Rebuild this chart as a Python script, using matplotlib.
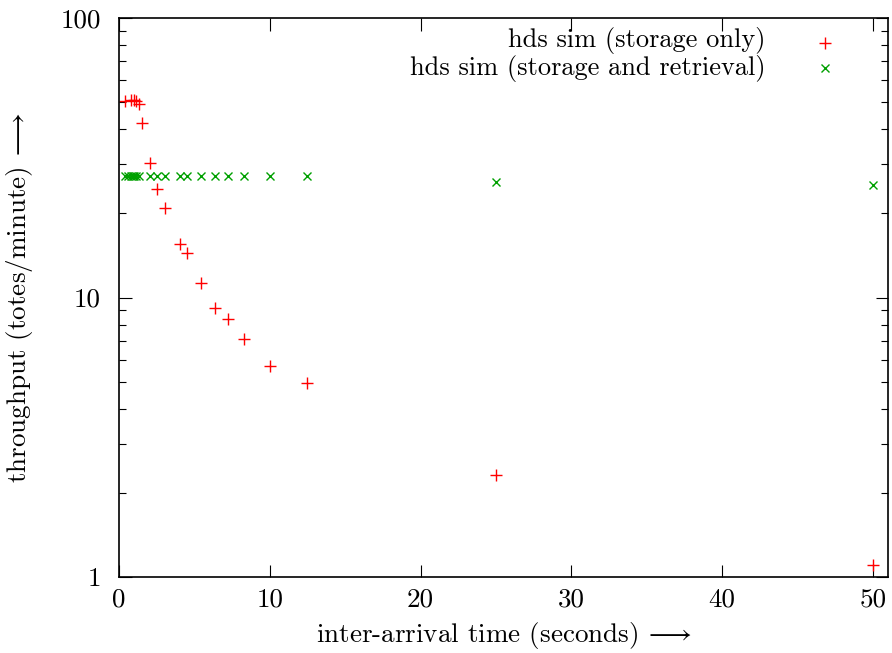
import matplotlib
matplotlib.use("Agg")
import matplotlib.pyplot as plt
from matplotlib.ticker import LogLocator, NullFormatter

plt.rcParams['font.family'] = 'cmr10'
plt.rcParams['mathtext.fontset'] = 'cm'
plt.rcParams['axes.formatter.use_mathtext'] = True

# inter-arrival time (s) and throughput (totes/minute)
storage_x = [0.4, 0.77, 0.99, 1.13, 1.34, 1.52, 2.03, 2.54, 3.02, 4.02, 4.52,
             5.43, 6.34, 7.22, 8.32, 10.0, 12.5, 25.0, 50.0]
storage_y = [50.6, 51.0, 51.0, 50.6, 49.2, 42.0, 30.2, 24.4, 20.9, 15.6, 14.4,
             11.3, 9.15, 8.37, 7.13, 5.69, 4.93, 2.32, 1.10]

retrieval_x = [0.4, 0.6, 0.77, 0.9, 0.99, 1.13, 1.34, 2.03, 2.54, 3.02, 4.02,
               4.52, 5.43, 6.34, 7.22, 8.32, 10.0, 12.5, 25.0, 50.0]
retrieval_y = [27.2, 27.2, 27.2, 27.2, 27.2, 27.2, 27.2, 27.2, 27.2, 27.2, 27.2,
               27.2, 27.2, 27.2, 27.2, 27.2, 27.2, 27.2, 25.9, 25.3]

xticks = [0, 10, 20, 30, 40, 50]
yticks = [1, 10, 100]
ytick_labels = ['1', '10', '100']

fs = 19.5

fig = plt.figure(figsize=(8.92, 6.53), dpi=100)
ax = fig.add_axes([119/892, 1 - 577/653, (888 - 119)/892, (577 - 18)/653])

red = '#ff0000'
green = '#00a000'
ax.plot(storage_x, storage_y, ls='none', marker='+', ms=9, mew=1.0, color=red)
ax.plot(retrieval_x, retrieval_y, ls='none', marker='x', ms=5.5, mew=1.0, color=green)

ax.set_yscale('log')
ax.set_xlim(0, 51)
ax.set_ylim(1, 100)
ax.set_xticks(xticks)
ax.set_xticklabels([str(v) for v in xticks])
ax.set_yticks(yticks)
ax.set_yticklabels(ytick_labels)
ax.yaxis.set_minor_locator(LogLocator(base=10, subs=range(2, 10)))
ax.yaxis.set_minor_formatter(NullFormatter())

ax.tick_params(which='both', direction='in', top=True, right=True, labelsize=fs)
ax.tick_params(which='major', length=9, width=0.8)
ax.tick_params(axis='x', which='major', pad=8)
ax.tick_params(axis='y', which='major', pad=13)
ax.tick_params(which='minor', length=5, width=0.8)
for s in ax.spines.values():
    s.set_linewidth(1.2)

ax.set_xlabel(r'inter-arrival time (seconds) $\!\longrightarrow$', fontsize=fs, labelpad=6)
ax.set_ylabel(r'throughput (totes/minute) $\!\longrightarrow$', fontsize=fs, labelpad=18)

# key, gnuplot style: right-aligned text with sample to its right
kfs = 19
ax.text(0.841, 0.959, 'hds sim (storage only)', transform=ax.transAxes,
        ha='right', va='center', fontsize=kfs)
ax.text(0.841, 0.909, 'hds sim (storage and retrieval)', transform=ax.transAxes,
        ha='right', va='center', fontsize=kfs)
ax.plot([0.918], [0.956], transform=ax.transAxes, marker='+', ms=9, mew=1.0,
        color=red, ls='none')
ax.plot([0.918], [0.911], transform=ax.transAxes, marker='x', ms=5.5, mew=1.0,
        color=green, ls='none')

fig.savefig('out.png', dpi=100)
